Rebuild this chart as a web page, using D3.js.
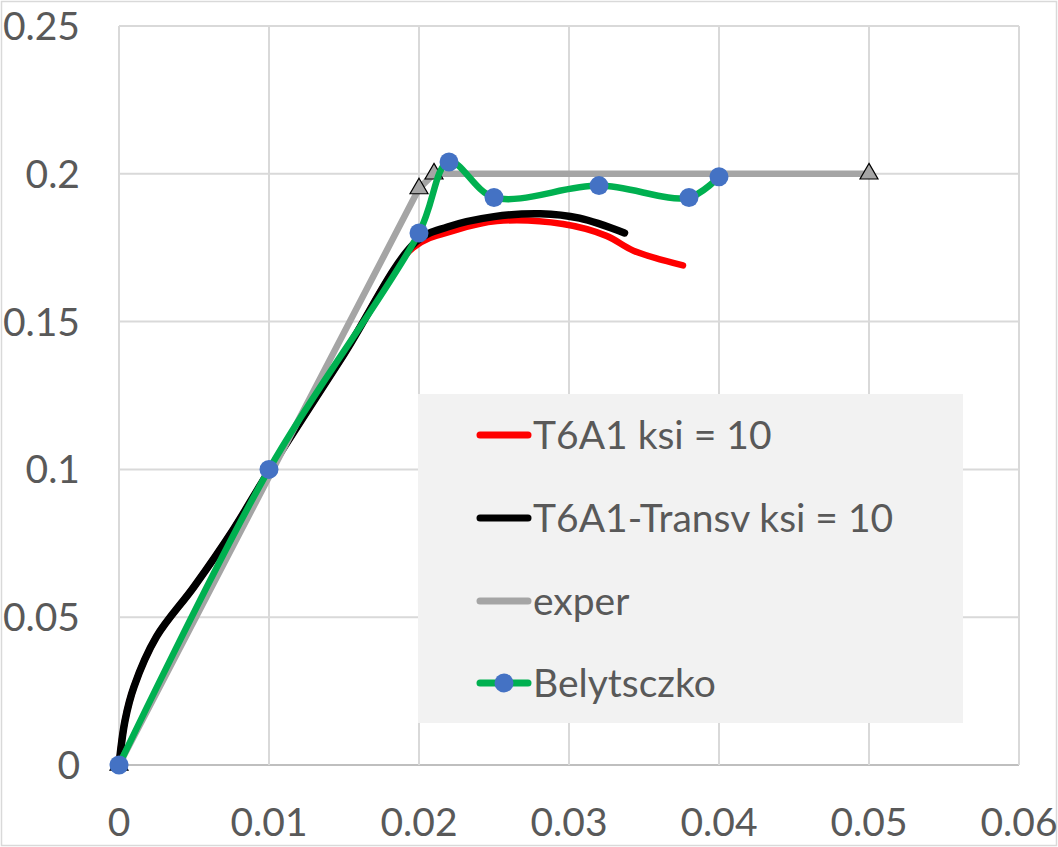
<!DOCTYPE html>
<html>
<head>
<meta charset="utf-8">
<script src="https://cdn.jsdelivr.net/npm/d3@7"></script>
<style>
  body { margin: 0; background: #fff; }
  text { font-family: Lato, "Open Sans", sans-serif; fill: #595959; }
</style>
</head>
<body>
<div id="chart"></div>
<script>
// data
const xTicks = [0, 0.01, 0.02, 0.03, 0.04, 0.05, 0.06];
const yTicks = [0, 0.05, 0.1, 0.15, 0.2, 0.25];
const xTickLabels = ["0", "0.01", "0.02", "0.03", "0.04", "0.05", "0.06"];
const yTickLabels = ["0", "0.05", "0.1", "0.15", "0.2", "0.25"];

const seriesNames = ["T6A1 ksi = 10", "T6A1-Transv ksi = 10", "exper", "Belytsczko"];

const t6a1X = [0, 0.0004, 0.001, 0.0025, 0.005, 0.0076, 0.01, 0.015, 0.0196, 0.0225, 0.0252, 0.0296, 0.0325, 0.0343, 0.0376];
const t6a1Y = [0, 0.015, 0.0265, 0.0434, 0.0603, 0.0795, 0.0995, 0.139, 0.175, 0.181, 0.184, 0.183, 0.179, 0.174, 0.169];

const transvX = [0, 0.0004, 0.001, 0.0025, 0.005, 0.0076, 0.01, 0.015, 0.0198, 0.0219, 0.025, 0.0281, 0.0307, 0.0337];
const transvY = [0, 0.015, 0.0265, 0.0434, 0.0603, 0.0795, 0.0995, 0.139, 0.177, 0.182, 0.1855, 0.1865, 0.185, 0.180];

const experX = [0, 0.02, 0.021, 0.05];
const experY = [0, 0.195, 0.2, 0.2];

const belX = [0, 0.01, 0.02, 0.022, 0.025, 0.032, 0.038, 0.04];
const belY = [0, 0.1, 0.18, 0.204, 0.192, 0.196, 0.192, 0.199];

const W = 1058, H = 847;

const svg = d3.select("#chart")
    .append("svg")
    .attr("width", W)
    .attr("height", H);

// outer chart border
svg.append("rect")
    .attr("x", 1.5).attr("y", 1.5)
    .attr("width", W - 3).attr("height", H - 3)
    .attr("fill", "#fff")
    .attr("stroke", "#d9d9d9")
    .attr("stroke-width", 1.5);

const x = d3.scaleLinear().domain([0, 0.06]).range([119, 1019]);
const y = d3.scaleLinear().domain([0, 0.25]).range([765, 26]);

// gridlines
svg.append("g")
    .selectAll("line")
    .data(yTicks)
    .join("line")
    .attr("x1", x(0)).attr("x2", x(0.06))
    .attr("y1", d => y(d)).attr("y2", d => y(d))
    .attr("stroke", d => d === 0 ? "#bfbfbf" : "#d9d9d9")
    .attr("stroke-width", 2);

svg.append("g")
    .selectAll("line")
    .data(xTicks)
    .join("line")
    .attr("x1", d => x(d)).attr("x2", d => x(d))
    .attr("y1", y(0.25)).attr("y2", y(0))
    .attr("stroke", "#d9d9d9")
    .attr("stroke-width", 2);

// tick labels
svg.append("g")
    .selectAll("text")
    .data(yTicks)
    .join("text")
    .attr("x", 80)
    .attr("y", d => y(d))
    .attr("dy", "0.36em")
    .attr("text-anchor", "end")
    .style("font-size", "39px")
    .text((d, i) => yTickLabels[i]);

svg.append("g")
    .selectAll("text")
    .data(xTicks)
    .join("text")
    .attr("x", d => x(d))
    .attr("y", 822)
    .attr("dy", "0.36em")
    .attr("text-anchor", "middle")
    .style("font-size", "39px")
    .text((d, i) => xTickLabels[i]);

const smooth = d3.line()
    .x(d => x(d[0]))
    .y(d => y(d[1]))
    .curve(d3.curveCatmullRom.alpha(0.5));

const straight = d3.line()
    .x(d => x(d[0]))
    .y(d => y(d[1]));

function pairs(xs, ys) { return xs.map((v, i) => [v, ys[i]]); }

// T6A1
svg.append("path")
    .datum(pairs(t6a1X, t6a1Y))
    .attr("fill", "none")
    .attr("stroke", "#ff0000")
    .attr("stroke-width", 6.5)
    .attr("stroke-linecap", "round")
    .attr("d", smooth);

// T6A1-Transv
svg.append("path")
    .datum(pairs(transvX, transvY))
    .attr("fill", "none")
    .attr("stroke", "#000000")
    .attr("stroke-width", 7.5)
    .attr("stroke-linecap", "round")
    .attr("d", smooth);

// exper
svg.append("path")
    .datum(pairs(experX, experY))
    .attr("fill", "none")
    .attr("stroke", "#a5a5a5")
    .attr("stroke-width", 6.5)
    .attr("stroke-linecap", "round")
    .attr("d", straight);

const tri = d3.symbol().type(d3.symbolTriangle).size(140);
svg.append("g")
    .selectAll("path")
    .data(pairs(experX, experY))
    .join("path")
    .attr("transform", d => "translate(" + x(d[0]) + "," + y(d[1]) + ")")
    .attr("d", tri)
    .attr("fill", "#a5a5a5")
    .attr("stroke", "#000")
    .attr("stroke-width", 1.2);

// Belytsczko
svg.append("path")
    .datum(pairs(belX, belY))
    .attr("fill", "none")
    .attr("stroke", "#00b050")
    .attr("stroke-width", 6.5)
    .attr("stroke-linecap", "round")
    .attr("d", smooth);

svg.append("g")
    .selectAll("circle")
    .data(pairs(belX, belY))
    .join("circle")
    .attr("cx", d => x(d[0]))
    .attr("cy", d => y(d[1]))
    .attr("r", 9.5)
    .attr("fill", "#4472c4");

// legend
const legend = svg.append("g");
legend.append("rect")
    .attr("x", 418).attr("y", 394)
    .attr("width", 545).attr("height", 329)
    .attr("fill", "#f2f2f2");

const legendColors = ["#ff0000", "#000000", "#a5a5a5", "#00b050"];
const rowY = [435, 518, 601, 683];

seriesNames.forEach(function(name, i) {
    legend.append("line")
        .attr("x1", 480).attr("x2", 528)
        .attr("y1", rowY[i]).attr("y2", rowY[i])
        .attr("stroke", legendColors[i])
        .attr("stroke-width", 7)
        .attr("stroke-linecap", "round");
    if (i === 3) {
        legend.append("circle")
            .attr("cx", 504).attr("cy", rowY[i])
            .attr("r", 9.5)
            .attr("fill", "#4472c4");
    }
    legend.append("text")
        .attr("x", 533)
        .attr("y", rowY[i])
        .attr("dy", "0.36em")
        .style("font-size", "39px")
        .text(name);
});
</script>
</body>
</html>
